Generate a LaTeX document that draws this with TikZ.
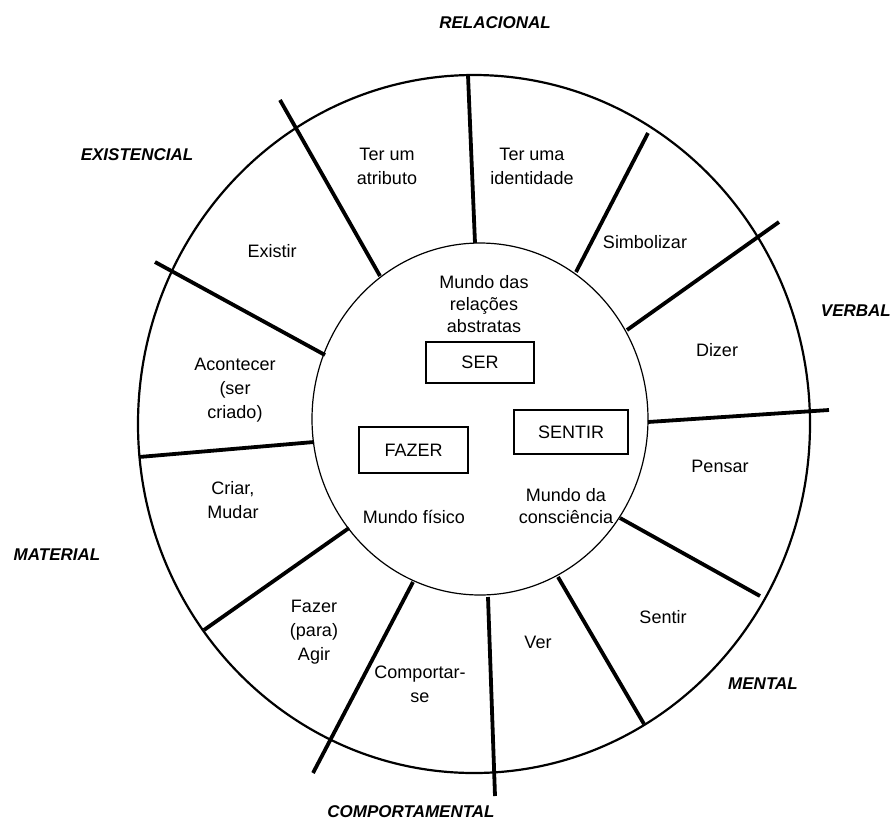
\documentclass[tikz,border=0pt]{standalone}
\usepackage{fontspec}
\setmainfont{Liberation Sans}
\begin{document}
\begin{tikzpicture}[x=1pt,y=-1pt,
  wedge/.style={font=\fontsize{18}{24}\selectfont, align=center, inner sep=0pt},
  core/.style={font=\fontsize{18}{22}\selectfont, align=center, inner sep=0pt},
  cat/.style={font=\fontsize{17}{20}\selectfont\bfseries\itshape, inner sep=0pt},
  spoke/.style={line width=3.8pt},
  ring/.style={line width=2.2pt},
  box/.style={draw, line width=2.4pt, inner sep=0pt, font=\fontsize{18}{22}\selectfont}]
\useasboundingbox (0,0) rectangle (892,823);

% the two rings
\coordinate (oc) at (474,424);
\coordinate (ic) at (480,419);
\draw[ring] (oc) ellipse [x radius=336pt, y radius=349pt];
\draw[line width=1.2pt] (ic) ellipse [x radius=168pt, y radius=176pt];

% spokes between the rings: outer end / inner end
\foreach \n/\ox/\oy/\ix/\iy in {
  1/468/75/475/243, 2/648/133/576/272, 3/779/222/627/330,
  4/829/410/648/422, 5/760/596/620/518, 6/644/724/558/577,
  7/495/796/488/597, 8/313/773/413/582, 9/204/630/349/528,
  10/139/457/314/442, 11/155/262/325/355, 12/280/100/380/276} {
  \coordinate (so\n) at (\ox,\oy);
  \coordinate (si\n) at (\ix,\iy);
  \draw[spoke] (so\n) -- (si\n);
}

% wedge labels
\node[wedge] (atr) at (387,166) {Ter um\\atributo};
\node[wedge] (ide) at (532,166) {Ter uma\\identidade};
\node[wedge] (sim) at (645,242) {Simbolizar};
\node[wedge] (diz) at (717,350) {Dizer};
\node[wedge] (pen) at (720,466) {Pensar};
\node[wedge] (sen) at (663,617) {Sentir};
\node[wedge] (ver) at (538,642) {Ver};
\node[wedge] (com) at (420,684) {Comportar-\\se};
\node[wedge] (faz) at (314,632) {Fazer\\(para)\\Agir};
\node[wedge] (cri) at (233,500) {Criar,\\Mudar};
\node[wedge] (aco) at (235,390) {Acontecer\\(ser\\criado)};
\node[wedge] (exi) at (272,251) {Existir};

% inner circle
\node[core] (abs) at (484,304) {Mundo das\\relações\\abstratas};
\node[box, minimum width=108pt, minimum height=41pt] (ser) at (480,362.5) {SER};
\node[box, minimum width=114pt, minimum height=44pt] (sentir) at (571,432) {SENTIR};
\node[box, minimum width=109pt, minimum height=46pt] (fazer) at (413.5,450) {FAZER};
\node[core] (fis) at (414,517) {Mundo físico};
\node[core] (cons) at (566,506) {Mundo da\\consciência};

% process categories
\node[cat] (rel) at (495,23) {RELACIONAL};
\node[cat] (exs) at (137,155) {EXISTENCIAL};
\node[cat, anchor=east] (vrb) at (891,311) {VERBAL};
\node[cat] (mat) at (57,555) {MATERIAL};
\node[cat] (men) at (763,684) {MENTAL};
\node[cat] (cmp) at (411,812) {COMPORTAMENTAL};
\end{tikzpicture}
\end{document}
